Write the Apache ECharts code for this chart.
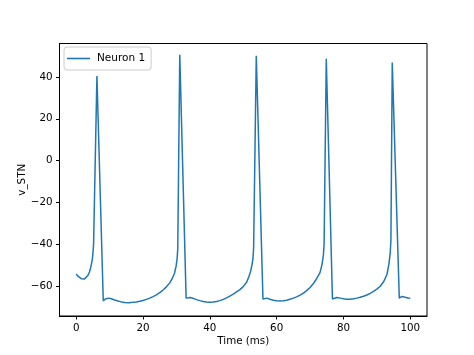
<!DOCTYPE html>
<html>
<head>
<meta charset="utf-8">
<script src="https://cdn.jsdelivr.net/npm/echarts@6/dist/echarts.min.js"></script>
<style>html,body{margin:0;padding:0;background:#fff}#c{width:474px;height:355px}</style>
</head>
<body>
<div id="c"></div>
<script>
const seriesName = 'Neuron 1';
const xTicks = [0, 20, 40, 60, 80, 100];
const yTicks = [-60, -40, -20, 0, 20, 40];
const times = [
  0, 0.5, 1, 1.5, 2, 2.5, 3, 3.5, 4, 4.4, 4.8, 5.0, 5.2, 6.2, 8.1, 8.7, 9.7, 10.5, 11.5, 12.5, 13.5, 14.5, 15.7,
  17, 18, 19, 20, 21, 22, 23, 24, 25, 26, 27, 28, 28.8, 29.4, 29.9, 30.2, 30.4, 31.0, 32.9, 34.1, 35, 36, 37, 38, 39, 40,
  41, 42, 43, 44, 45, 46, 47, 48, 49, 50, 51, 51.7, 52.2, 52.6, 52.9, 53.1, 53.9, 55.9, 57.1, 58, 59, 60, 61, 62,
  63, 64, 65, 66, 67, 68, 69, 70, 71, 72, 73, 73.6, 74.0, 74.2, 74.85, 76.7, 78, 79, 80, 81, 82, 83, 84, 85, 86,
  87, 88, 89, 90, 91, 92, 93, 93.6, 94.0, 94.2, 94.6, 96.7, 97.5, 98.5, 99.3, 100
];
const vStn = [
  -54.2, -55.3, -56.1, -56.5, -56.7, -56.6, -56.1, -55.0, -53.2, -50.7, -47.5, -44.5, -40, 40.5, -67.1, -66.2, -65.8, -66.1, -66.7, -67.2, -67.6, -67.9, -68.0,
  -67.8, -67.6, -67.3, -66.9, -66.4, -65.8, -65.1, -64.2, -63.2, -61.9, -60.4, -58.5, -56.2, -54.0, -50.5, -47, -42, 50.6, -65.8, -65.5, -65.9, -66.5, -67.0, -67.4, -67.7, -67.8,
  -67.7, -67.4, -67.0, -66.4, -65.7, -64.8, -63.9, -62.8, -61.7, -60.3, -58.2, -55.5, -53, -50, -47, -42, 50.2, -66.2, -65.8, -66.3, -66.8, -67.1, -67.2, -67.1,
  -66.8, -66.3, -65.8, -65.2, -64.4, -63.4, -62.2, -60.7, -58.8, -56.4, -53.5, -49.5, -45, -40, 48.7, -66.2, -65.5, -65.8, -66.1, -66.3, -66.3, -66.1, -65.8, -65.4, -64.9,
  -64.3, -63.5, -62.6, -61.5, -60.1, -58.0, -54.5, -49.5, -44, -38, 46.9, -65.8, -65.0, -65.4, -65.7, -65.8
];
const data = times.map((t, i) => [t, vStn[i]]);
const font = 'DejaVu Sans';
const fmt = v => String(v).replace('-', '\u2212');
const chart = echarts.init(document.getElementById('c'), null, {renderer: 'canvas'});
chart.setOption({
  animation: false,
  backgroundColor: '#fff',
  textStyle: {fontFamily: font},
  grid: {left: 59.5, right: 47, top: 43.5, bottom: 39, show: true, borderColor: '#000', borderWidth: 1, backgroundColor: 'transparent', outerBoundsMode: 'none', containLabel: false},
  legend: {
    left: 64, top: 47, orient: 'vertical',
    data: [{name: seriesName, icon: 'rect'}],
    itemWidth: 23, itemHeight: 1.6, itemGap: 0,
    padding: [6, 6, 6, 3],
    backgroundColor: 'rgba(255,255,255,0.8)', borderColor: '#cccccc', borderWidth: 1, borderRadius: 3,
    textStyle: {fontFamily: font, fontSize: 10.5, color: '#000', padding: [0, 0, 0, 2]}
  },
  xAxis: {
    type: 'value', min: -5, max: 105, position: 'bottom',
    name: 'Time (ms)', nameLocation: 'middle', nameGap: 20, nameMoveOverlap: false,
    nameTextStyle: {fontFamily: font, fontSize: 10.3, color: '#000'},
    axisLine: {show: true, onZero: false, lineStyle: {color: '#000', width: 1}},
    axisTick: {show: true, length: 3.5, inside: false, customValues: xTicks, lineStyle: {color: '#000'}},
    axisLabel: {customValues: xTicks, margin: 7, fontFamily: font, fontSize: 10.3, color: '#000', formatter: fmt},
    splitLine: {show: false}
  },
  yAxis: {
    type: 'value', min: -74.35, max: 56.03, position: 'left',
    name: 'v_STN', nameLocation: 'middle', nameGap: 32, nameRotate: 90, nameMoveOverlap: false,
    nameTextStyle: {fontFamily: font, fontSize: 10.3, color: '#000'},
    axisLine: {show: true, onZero: false, lineStyle: {color: '#000', width: 1}},
    axisTick: {show: true, length: 3.5, inside: false, customValues: yTicks, lineStyle: {color: '#000'}},
    axisLabel: {customValues: yTicks, margin: 7, fontFamily: font, fontSize: 10.3, color: '#000', formatter: fmt},
    splitLine: {show: false}
  },
  series: [{
    name: seriesName, type: 'line', data: data,
    showSymbol: false, symbol: 'none',
    lineStyle: {color: '#1f77b4', width: 1.5},
    itemStyle: {color: '#1f77b4'}
  }]
});
</script>
</body>
</html>
